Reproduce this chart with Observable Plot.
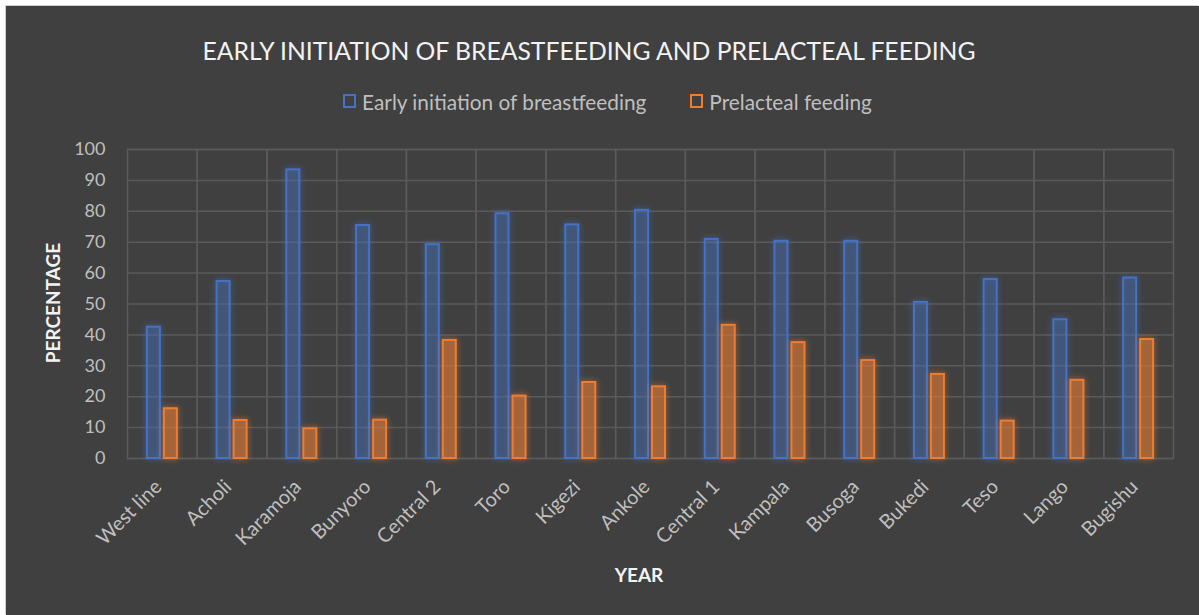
<!DOCTYPE html>
<html>
<head>
<meta charset="utf-8">
<script src="https://cdn.jsdelivr.net/npm/d3@7"></script>
<script src="https://cdn.jsdelivr.net/npm/@observablehq/plot@0.6"></script>
<style>
  html, body { margin: 0; padding: 0; background: #ffffff; }
  body { width: 1199px; height: 615px; overflow: hidden; position: relative; font-family: Lato, "Open Sans", sans-serif; }
  #panel { position: absolute; left: 6px; top: 6px; width: 1193px; height: 609px; background: #404040; box-shadow: -1px -1px 0 #cfcfcf; }
  #title { position: absolute; top: 30px; left: 0; width: 1166px; text-align: center; color: #f2f2f2; font-size: 24.7px; white-space: nowrap; }
  #legend { position: absolute; top: 81px; left: 0; width: 1203px; text-align: center; color: #bfbfbf; font-size: 20.8px; white-space: nowrap; }
  .item { display: inline-flex; align-items: center; margin: 0 22px; }
  .sw { width: 9px; height: 10px; border: 2px solid; margin-right: 6px; display: inline-block; box-sizing: content-box; }
  #ylab { position: absolute; left: 46px; top: 297px; transform: translate(-50%, -50%) rotate(-90deg); color: #f2f2f2; font-weight: bold; font-size: 19px; white-space: nowrap; }
  #xlab { position: absolute; left: 633px; top: 568px; transform: translate(-50%, -50%); color: #f2f2f2; font-weight: bold; font-size: 19px; }
  #chart { position: absolute; left: 0; top: 124px; }
</style>
</head>
<body>
<div id="panel">
  <div id="title"></div>
  <div id="legend"></div>
  <div id="ylab"></div>
  <div id="xlab"></div>
  <div id="chart"></div>
</div>
<script>
const titleText = "EARLY INITIATION OF BREASTFEEDING AND PRELACTEAL FEEDING";
const yLabel = "PERCENTAGE";
const xLabel = "YEAR";
const regions = ["West line", "Acholi", "Karamoja", "Bunyoro", "Central 2", "Toro", "Kigezi", "Ankole", "Central 1", "Kampala", "Busoga", "Bukedi", "Teso", "Lango", "Bugishu"];
const seriesNames = ["Early initiation of breastfeeding", "Prelacteal feeding"];
const early = [42.5, 57.3, 93.4, 75.4, 69.2, 79.2, 75.6, 80.3, 70.9, 70.3, 70.3, 50.5, 57.9, 44.9, 58.4];
const prelacteal = [16.1, 12.3, 9.6, 12.4, 38.2, 20.2, 24.6, 23.2, 43.1, 37.5, 31.7, 27.2, 12.1, 25.3, 38.5];
const yTicks = [0, 10, 20, 30, 40, 50, 60, 70, 80, 90, 100];
const colors = ["#4472c4", "#ed7d31"];

const data = regions.flatMap((r, i) => [
  {region: r, series: seriesNames[0], value: early[i]},
  {region: r, series: seriesNames[1], value: prelacteal[i]}
]);

document.getElementById("title").textContent = titleText;
document.getElementById("ylab").textContent = yLabel;
document.getElementById("xlab").textContent = xLabel;
const legend = document.getElementById("legend");
seriesNames.forEach((s, i) => {
  const item = document.createElement("span");
  item.className = "item";
  const sw = document.createElement("span");
  sw.className = "sw";
  sw.style.borderColor = colors[i];
  item.appendChild(sw);
  item.appendChild(document.createTextNode(s));
  legend.appendChild(item);
});

const chart = Plot.plot({
  width: 1193,
  height: 480,
  marginTop: 19,
  marginBottom: 152,
  marginLeft: 121,
  marginRight: 26,
  style: {background: "transparent", color: "#bfbfbf", fontFamily: "Lato, 'Open Sans', sans-serif", fontSize: "18px", overflow: "visible"},
  fx: {domain: regions, padding: 0, round: false, label: null},
  x: {domain: seriesNames, axis: null, round: false, paddingInner: 0.235, paddingOuter: 1.17},
  y: {domain: [0, 100], ticks: yTicks, label: null, tickSize: 0, tickPadding: 22},
  marks: [
    Plot.gridY(yTicks, {stroke: "#5a5a5a", strokeOpacity: 1, strokeWidth: 1.5}),
    Plot.frame({stroke: "#5a5a5a", strokeWidth: 1.5}),
    Plot.axisFx({anchor: "bottom", label: null, tickRotate: -45, tickSize: 0, tickPadding: 25, dx: -4, fontSize: 20, fill: "#bfbfbf"}),
    Plot.barY(data.filter(d => d.series === seriesNames[0]), {fx: "region", x: "series", y: "value", fill: colors[0], fillOpacity: 0.25, stroke: colors[0], strokeWidth: 2}),
    Plot.barY(data.filter(d => d.series === seriesNames[1]), {fx: "region", x: "series", y: "value", fill: colors[1], fillOpacity: 0.38, stroke: colors[1], strokeWidth: 2})
  ]
});
document.getElementById("chart").appendChild(chart);

// glow effect around the bars
const ns = "http://www.w3.org/2000/svg";
const defs = document.createElementNS(ns, "defs");
colors.forEach((c, i) => {
  const f = document.createElementNS(ns, "filter");
  f.setAttribute("id", "glow" + i);
  f.setAttribute("x", "-100%"); f.setAttribute("y", "-20%");
  f.setAttribute("width", "300%"); f.setAttribute("height", "140%");
  f.innerHTML = `<feGaussianBlur in="SourceAlpha" stdDeviation="3" result="b"/>
    <feFlood flood-color="${c}" flood-opacity="0.75"/>
    <feComposite in2="b" operator="in" result="g"/>
    <feMerge><feMergeNode in="g"/><feMergeNode in="SourceGraphic"/></feMerge>`;
  defs.appendChild(f);
});
chart.insertBefore(defs, chart.firstChild);
chart.querySelectorAll('rect').forEach(r => {
  let el = r, c = null;
  while (el && el !== chart) { c = c || el.getAttribute("stroke"); el = el.parentNode; }
  const idx = colors.indexOf(c);
  if (idx >= 0) r.setAttribute("filter", `url(#glow${idx})`);
});
</script>
</body>
</html>
